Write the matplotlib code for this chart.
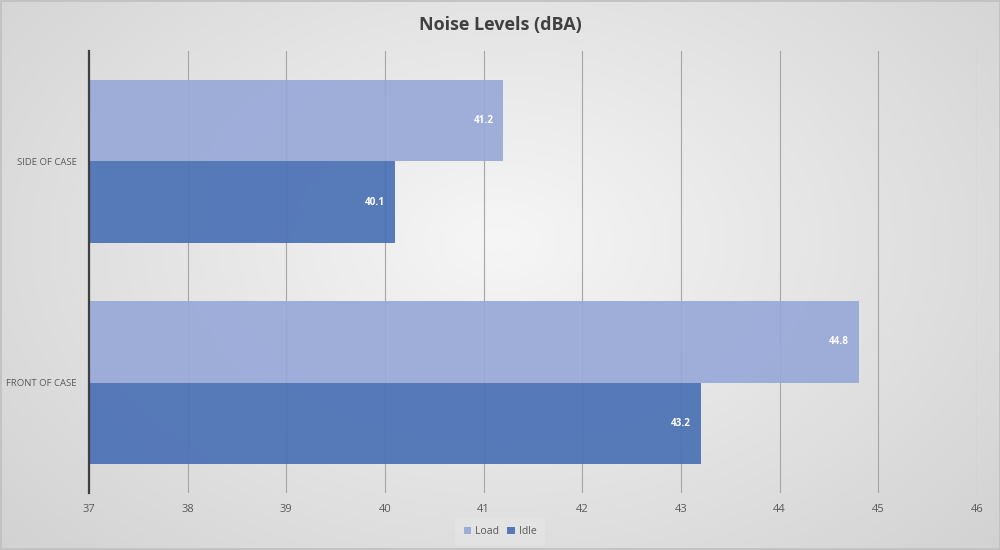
import matplotlib
matplotlib.use('Agg')
import matplotlib.pyplot as plt
import numpy as np

plt.rcParams['font.family'] = ['Open Sans', 'DejaVu Sans']

categories = ['FRONT OF CASE', 'SIDE OF CASE']
load_vals = [44.8, 41.2]
idle_vals = [43.2, 40.1]
series_names = ['Load', 'Idle']
xticks = list(range(37, 47))

load_color = '#98a9d8'
idle_color = '#4a70b5'

fig = plt.figure(figsize=(10, 5.5), dpi=100)

# radial grey background
bg = fig.add_axes([0, 0, 1, 1], zorder=-10)
yy, xx = np.mgrid[0:550, 0:1000]
r = np.sqrt(((xx - 500) / 620.0) ** 2 + ((yy - 240) / 420.0) ** 2)
shade = 0.965 - 0.13 * np.clip(r, 0, 1.3)
bg.imshow(np.dstack([shade] * 3), extent=[0, 1, 0, 1], aspect='auto')
bg.set_xlim(0, 1)
bg.set_ylim(0, 1)
bg.add_patch(plt.Rectangle((0.0005, 0.001), 0.999, 0.998, fill=False,
                           edgecolor='#bfbfbf', lw=1.2))
bg.axis('off')

ax = fig.add_axes([0.089, 0.1036, 0.888, 0.8037])
ax.set_facecolor('none')

y = np.arange(len(categories))
h = 0.37
load_bars = ax.barh(y + h / 2, np.array(load_vals) - 37, height=h, left=37,
                    color=load_color, alpha=0.92, zorder=3, label='Load',
                    edgecolor='none')
idle_bars = ax.barh(y - h / 2, np.array(idle_vals) - 37, height=h, left=37,
                    color=idle_color, alpha=0.92, zorder=3, label='Idle',
                    edgecolor='none')

for bars, vals in ((load_bars, load_vals), (idle_bars, idle_vals)):
    for b, v in zip(bars, vals):
        ax.annotate(f'{v}', xy=(v, b.get_y() + b.get_height() / 2),
                    xytext=(-7, 0), textcoords='offset points',
                    ha='right', va='center', color='white',
                    fontsize=7.2, fontweight='bold', zorder=5)

ax.set_xlim(37, 46)
ax.set_ylim(-0.5, 1.5)
ax.set_xticks(xticks)
ax.set_xticklabels([str(t) for t in xticks])
ax.set_yticks(y)
ax.set_yticklabels(categories)
ax.tick_params(axis='x', length=0, pad=8, labelsize=8, labelcolor='#595959')
ax.tick_params(axis='y', length=0, pad=9, labelsize=6.8, labelcolor='#595959')
ax.grid(axis='x', color='#a6a6a6', lw=0.8, zorder=1)
for s in ['top', 'right', 'bottom']:
    ax.spines[s].set_visible(False)
ax.spines['left'].set_color('#404040')
ax.spines['left'].set_linewidth(1.6)
ax.spines['left'].set_zorder(4)

fig.text(0.5, 0.955, 'Noise Levels (dBA)', ha='center', va='center',
         fontsize=13, fontweight='bold', color='#404040')

leg = fig.legend(handles=[load_bars, idle_bars], labels=series_names,
                 loc='center', bbox_to_anchor=(0.5, 0.033), ncol=2,
                 frameon=True, fontsize=7.5, handlelength=0.7,
                 handleheight=0.7, handletextpad=0.4, columnspacing=0.8,
                 borderpad=0.5, labelcolor='#595959')
leg.get_frame().set_facecolor('#e6e6e6')
leg.get_frame().set_edgecolor('none')
leg.get_frame().set_alpha(0.6)
leg.get_frame().set_boxstyle('square')

fig.savefig('out.png', dpi=100)
